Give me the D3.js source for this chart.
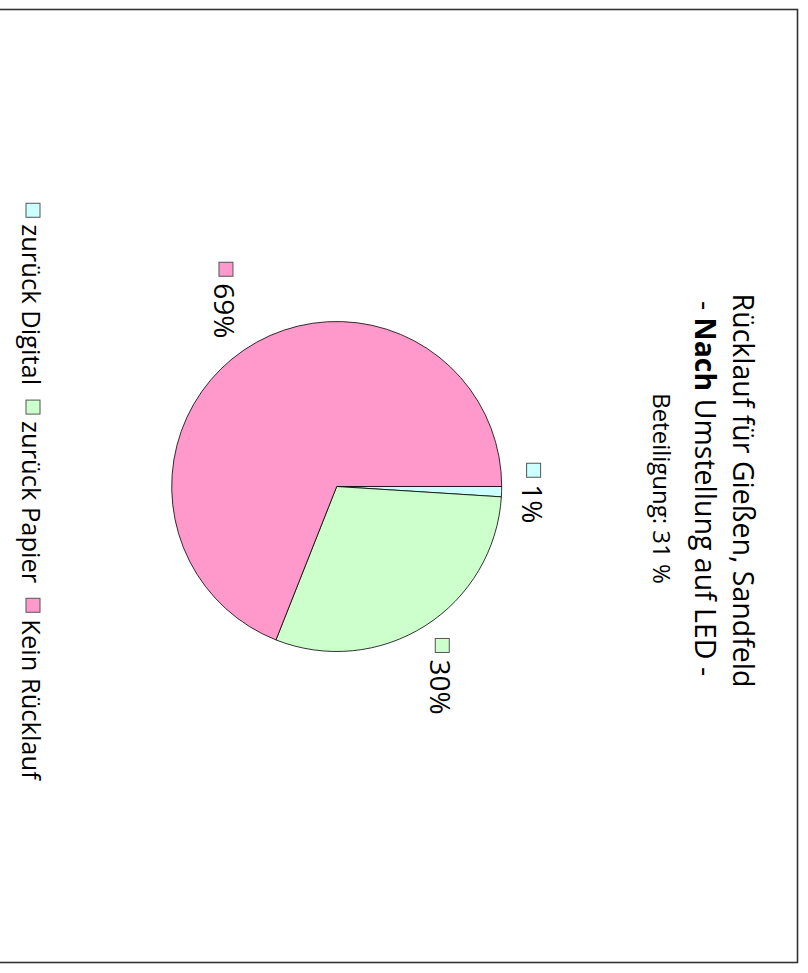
<!DOCTYPE html>
<html>
<head>
<meta charset="utf-8">
<script src="https://cdn.jsdelivr.net/npm/d3@7"></script>
<style>
  body { margin: 0; background: #fff; }
  text { font-family: "Open Sans", sans-serif; fill: #000; }
</style>
</head>
<body>
<svg id="chart" width="808" height="973"></svg>
<script>
var categories = ["zurück Digital", "zurück Papier", "Kein Rücklauf"],
    values = [1, 30, 69],
    colors = ["#ccffff", "#ccffcc", "#ff99cc"],
    titleLine1 = "Rücklauf für Gießen, Sandfeld",
    titleBold = "Nach",
    titleLine2 = " Umstellung auf LED -",
    subtitle = "Beteiligung: 31 %";

// the whole chart is turned a quarter clockwise, so we draw it in an
// unrotated 973 x 808 frame and rotate the group
var W = 973, H = 808;
var svg = d3.select("#chart");

svg.append("rect")
  .attr("x", -1).attr("y", 9.5)
  .attr("width", 798.5).attr("height", 953)
  .attr("fill", "none")
  .attr("stroke", "#333")
  .attr("stroke-width", 1.6);

var g = svg.append("g").attr("transform", "translate(808,0) rotate(90)");

var center = {x: 486.5, y: 471.3},
    radius = 165;

// title
var title = g.append("g").attr("class", "title");
title.append("text")
  .attr("x", center.x + 4).attr("y", 75)
  .attr("text-anchor", "middle")
  .attr("font-size", 28.5)
  .text(titleLine1);

var t2 = title.append("text")
  .attr("x", center.x + 2).attr("y", 113)
  .attr("text-anchor", "middle")
  .attr("font-size", 28.5);
t2.append("tspan").text("- ");
t2.append("tspan").attr("font-weight", "bold").text(titleBold);
t2.append("tspan").text(titleLine2);

title.append("text")
  .attr("x", center.x + 2).attr("y", 155)
  .attr("text-anchor", "middle")
  .attr("font-size", 24)
  .text(subtitle);

// pie
var pie = d3.pie().sort(null).value(function(d) { return d; });
var arc = d3.arc().innerRadius(0).outerRadius(radius);
var slices = pie(values);

var pieG = g.append("g").attr("transform", "translate(" + center.x + "," + center.y + ")");

pieG.selectAll("path.slice").data(slices).enter().append("path")
  .attr("class", "slice")
  .attr("d", arc)
  .attr("fill", function(d, i) { return colors[i]; })
  .attr("stroke", "#000")
  .attr("stroke-width", 0.8);

// data labels: little colour key + percentage, pushed outside the pie
var markerSize = 14, labelGap = 22;
var labels = pieG.selectAll("g.label").data(slices).enter().append("g").attr("class", "label");

labels.each(function(d, i) {
  var lg = d3.select(this);
  var txt = lg.append("text")
    .attr("font-size", 28)
    .attr("dominant-baseline", "central")
    .text(values[i] + "%");
  var tw = txt.node().getComputedTextLength();
  var w = markerSize + 7 + tw, h = 20;
  var mid = (d.startAngle + d.endAngle) / 2;
  var dx = Math.sin(mid), dy = -Math.cos(mid);
  var cx = (radius + labelGap) * dx + dx * w / 2,
      cy = (radius + labelGap) * dy + dy * h / 2;
  lg.insert("rect", "text")
    .attr("x", cx - w / 2).attr("y", cy - markerSize / 2)
    .attr("width", markerSize).attr("height", markerSize)
    .attr("fill", colors[i])
    .attr("stroke", "#555")
    .attr("stroke-width", 1);
  txt.attr("x", cx - w / 2 + markerSize + 7).attr("y", cy + 1);
});

// legend along the bottom of the unrotated frame
var legend = g.append("g").attr("class", "legend");
var legendY = 775, itemGap = 15, x = 0;
var items = legend.selectAll("g").data(categories).enter().append("g");
items.append("rect")
  .attr("width", markerSize).attr("height", markerSize)
  .attr("y", -markerSize / 2)
  .attr("fill", function(d, i) { return colors[i]; })
  .attr("stroke", "#555")
  .attr("stroke-width", 1);
items.append("text")
  .attr("x", markerSize + 7)
  .attr("y", 1)
  .attr("dominant-baseline", "central")
  .attr("font-size", 25.5)
  .text(function(d) { return d; });
items.each(function() {
  var item = d3.select(this);
  item.attr("transform", "translate(" + x + ",0)");
  x += markerSize + 7 + item.select("text").node().getComputedTextLength() + itemGap;
});
var legendWidth = x - itemGap;
legend.attr("transform", "translate(" + (center.x + 5 - legendWidth / 2) + "," + legendY + ")");
</script>
</body>
</html>
